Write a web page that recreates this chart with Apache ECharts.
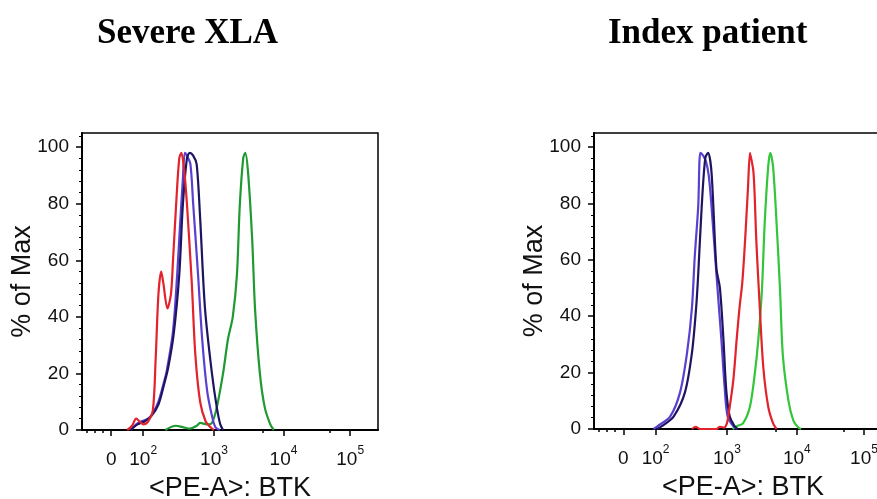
<!DOCTYPE html>
<html>
<head>
<meta charset="utf-8">
<title>BTK</title>
<script src="https://cdn.jsdelivr.net/npm/echarts@6/dist/echarts.min.js"></script>
<style>
  html, body { margin: 0; padding: 0; background: #fff; }
  #main { width: 877px; height: 499px; }
</style>
</head>
<body>
<div id="main"></div>
<script>
// x values are display positions on the biexponential axis (1 unit = 1 decade)
const tickVals = [1.52, 1.98, 3, 4, 4.96]
const tickLabels = ['0', '10{s|2}', '10{s|3}', '10{s|4}', '10{s|5}']
const minorTickVals = [1.17, 1.28, 1.40, 3.7, 4.67]
const yTicks = [0, 20, 40, 60, 80, 100]
const panelTitles = ['Severe XLA', 'Index patient']

// Severe XLA
const xlaRed = [[1.75,0],[1.82,1.5],[1.88,4],[1.93,3],[1.98,2],[2.05,3],[2.12,7],[2.16,25],[2.2,48],[2.24,56],[2.27,52],[2.33,43],[2.38,48],[2.41,60],[2.46,82],[2.5,96],[2.53,98],[2.57,92],[2.61,80],[2.68,52],[2.73,27],[2.8,10],[2.88,3],[2.95,1],[3.0,0]]
const xlaBlue = [[1.8,0],[1.88,2],[1.95,3],[2.05,4],[2.12,6],[2.2,10],[2.28,17],[2.32,21],[2.41,35],[2.47,55],[2.51,72],[2.55,88],[2.58,98],[2.61,97],[2.66,94],[2.7,80],[2.77,55],[2.83,32],[2.9,14],[2.97,5],[3.02,1],[3.08,0]]
const xlaNavy = [[1.8,0],[1.9,2],[2.0,3],[2.1,5],[2.2,9],[2.28,16],[2.34,22],[2.42,34],[2.5,55],[2.55,79],[2.61,96],[2.65,98],[2.7,97],[2.75,94],[2.8,75],[2.87,43],[2.97,20],[3.04,8],[3.09,2],[3.13,0]]
const xlaGreen = [[2.3,0],[2.45,1.5],[2.55,1],[2.65,0.5],[2.75,1.5],[2.8,2.5],[2.9,2],[2.97,2.5],[3.04,8],[3.13,20],[3.2,32],[3.27,40],[3.33,55],[3.37,79],[3.42,96],[3.45,98],[3.49,91],[3.55,67],[3.59,43],[3.66,20],[3.73,8],[3.81,2],[3.86,0]]

// Index patient
const idxBlue = [[1.95,0],[2.01,1],[2.19,4.5],[2.33,13],[2.43,27],[2.5,43],[2.54,61],[2.59,79],[2.62,98],[2.66,97],[2.7,95],[2.74,90],[2.78,79],[2.85,55],[2.92,32],[2.97,14],[3.01,4.5],[3.09,1],[3.15,0]]
const idxNavy = [[2.0,0],[2.07,1],[2.24,4.5],[2.4,13],[2.5,27],[2.56,43],[2.59,55],[2.64,79],[2.69,96],[2.73,98],[2.78,91],[2.85,57],[2.9,50],[2.95,32],[2.99,14],[3.04,4.5],[3.11,1],[3.15,0]]
const idxRed = [[2.5,0],[2.55,0.8],[2.62,0],[2.85,0],[2.9,0.8],[2.96,0.5],[3.0,2],[3.02,4.5],[3.09,17],[3.14,32],[3.18,43],[3.22,52],[3.26,67],[3.3,85],[3.33,98],[3.34,98],[3.38,91],[3.42,67],[3.47,43],[3.52,22],[3.59,8],[3.66,2],[3.71,0]]
const idxGreen = [[3.08,0],[3.14,1],[3.23,2],[3.33,8],[3.4,20],[3.45,32],[3.5,49],[3.54,73],[3.59,93],[3.62,98],[3.66,93],[3.71,73],[3.76,49],[3.8,26],[3.88,10],[3.95,3],[4.02,0.5],[4.06,0]]

const labelFont = 'Liberation Sans, Arial, sans-serif'
const titleFont = 'Liberation Serif, Times New Roman, serif'

function xAxes(gridIndex) {
  return [
    {
      gridIndex: gridIndex,
      type: 'value',
      min: 1.1,
      max: 5.36,
      position: 'bottom',
      name: '<PE-A>: BTK',
      nameLocation: 'middle',
      nameGap: 45,
      nameMoveOverlap: false,
      nameTextStyle: { fontFamily: labelFont, fontSize: 27, color: '#111' },
      axisLine: { onZero: false, lineStyle: { color: '#000', width: 2 } },
      axisTick: { customValues: tickVals, length: 6, lineStyle: { color: '#000', width: 1.5 } },
      axisLabel: {
        customValues: tickVals,
        margin: 15,
        formatter: function (v) {
          const i = tickVals.indexOf(v)
          return i >= 0 ? tickLabels[i] : ''
        },
        fontFamily: labelFont,
        fontSize: 19,
        lineHeight: 30,
        color: '#111',
        rich: {
          s: { fontFamily: labelFont, fontSize: 12, lineHeight: 12, verticalAlign: 'top', color: '#111' }
        }
      },
      splitLine: { show: false }
    },
    {
      // minor ticks only
      gridIndex: gridIndex,
      type: 'value',
      min: 1.1,
      max: 5.36,
      position: 'bottom',
      axisLine: { show: false },
      axisTick: { customValues: minorTickVals, length: 3, lineStyle: { color: '#000', width: 1.5 } },
      axisLabel: { show: false },
      splitLine: { show: false }
    }
  ]
}

function yAxis(gridIndex) {
  return {
    gridIndex: gridIndex,
    type: 'value',
    min: 0,
    max: 105,
    interval: 20,
    name: '% of Max',
    nameLocation: 'middle',
    nameGap: 46,
    nameMoveOverlap: false,
    nameTextStyle: { fontFamily: labelFont, fontSize: 27, color: '#111' },
    axisLine: { show: true, lineStyle: { color: '#000', width: 2 } },
    axisTick: { customValues: yTicks, length: 6, lineStyle: { color: '#000', width: 1.5 } },
    minorTick: { show: true, splitNumber: 5, length: 3, lineStyle: { color: '#000', width: 1 } },
    axisLabel: {
      customValues: yTicks,
      margin: 13,
      fontFamily: labelFont,
      fontSize: 19,
      color: '#111'
    },
    splitLine: { show: false }
  }
}

function curve(data, color, xi, yi) {
  return {
    type: 'line',
    data: data,
    xAxisIndex: xi,
    yAxisIndex: yi,
    showSymbol: false,
    smooth: 0.3,
    silent: true,
    lineStyle: { color: color, width: 2.2 }
  }
}

const option = {
  animation: false,
  backgroundColor: '#fff',
  graphic: [
    {
      type: 'text', left: 97, top: 16,
      style: { text: panelTitles[0], fontFamily: titleFont, fontWeight: 'bold', fontSize: 35, fill: '#000' }
    },
    {
      type: 'text', left: 608, top: 16,
      style: { text: panelTitles[1], fontFamily: titleFont, fontWeight: 'bold', fontSize: 35, fill: '#000' }
    }
  ],
  grid: [
    { left: 82, top: 133, width: 296, height: 297, show: true, borderColor: '#000', borderWidth: 1.5, outerBoundsMode: 'none' },
    { left: 594, top: 133, width: 298, height: 296, show: true, borderColor: '#000', borderWidth: 1.5, outerBoundsMode: 'none' }
  ],
  xAxis: xAxes(0).concat(xAxes(1)),
  yAxis: [yAxis(0), yAxis(1)],
  series: [
    curve(xlaGreen, '#1f9a32', 0, 0),
    curve(xlaBlue, '#5a3fd0', 0, 0),
    curve(xlaNavy, '#1c1560', 0, 0),
    curve(xlaRed, '#e3222b', 0, 0),
    curve(idxGreen, '#33c63a', 2, 1),
    curve(idxBlue, '#5a3fd0', 2, 1),
    curve(idxNavy, '#1c1560', 2, 1),
    curve(idxRed, '#e3222b', 2, 1)
  ]
}

const myChart = echarts.init(document.getElementById('main'))
myChart.setOption(option, true)
</script>
</body>
</html>
